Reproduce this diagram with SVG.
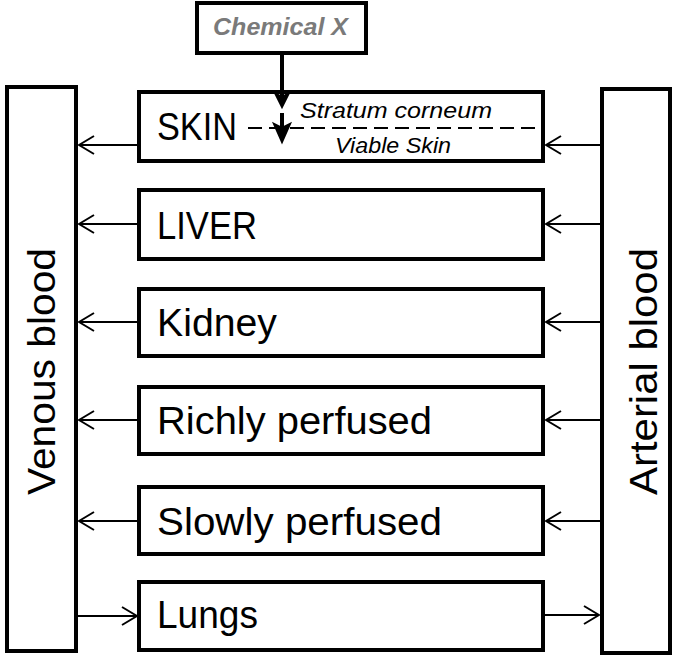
<svg xmlns="http://www.w3.org/2000/svg" width="690" height="670" viewBox="0 0 690 670">
<style>
.box{fill:#fff;stroke:#000;stroke-width:4}
.lbl{font-family:"Liberation Sans",Arial,sans-serif;font-size:38px;fill:#000}
.it{font-family:"Liberation Sans",Arial,sans-serif;font-size:22px;font-style:italic;fill:#000}
.conn{stroke:#000;stroke-width:2;fill:none}
.thick{stroke:#000;stroke-width:4;fill:none}
.head{fill:#000;stroke:#000;stroke-width:2;stroke-linejoin:miter}
</style>
<defs>
<marker id="ah" markerUnits="userSpaceOnUse" viewBox="0 0 17 20" refX="16" refY="10" markerWidth="17" markerHeight="20" orient="auto">
<path d="M1,1 L16,10 L1,19" fill="none" stroke="#000" stroke-width="2"/>
</marker>
</defs>
<rect width="690" height="670" fill="#fff"/>
<g id="venous">
<rect class="box" x="7" y="87" width="69" height="564"/>
<text class="lbl" transform="translate(55,495) rotate(-90)" textLength="247" lengthAdjust="spacingAndGlyphs">Venous blood</text>
</g>
<g id="arterial">
<rect class="box" x="602" y="89" width="68" height="564"/>
<text class="lbl" transform="translate(657,495) rotate(-90)" textLength="247" lengthAdjust="spacingAndGlyphs">Arterial blood</text>
</g>
<g id="chemical">
<rect class="box" x="197" y="3" width="169" height="50"/>
<text x="213" y="35" font-family="Liberation Sans,Arial,sans-serif" font-size="24" font-weight="bold" font-style="italic" fill="#7a7a7a" textLength="135" lengthAdjust="spacingAndGlyphs">Chemical X</text>
</g>
<g id="skin">
<rect class="box" x="139" y="92" width="404" height="69"/>
<text class="lbl" x="157" y="140" textLength="80" lengthAdjust="spacingAndGlyphs">SKIN</text>
<line x1="248" y1="128" x2="543" y2="128" stroke="#000" stroke-width="2" stroke-dasharray="14,7"/>
<text class="it" x="300" y="118" textLength="192" lengthAdjust="spacingAndGlyphs">Stratum corneum</text>
<text class="it" x="335" y="153" textLength="116" lengthAdjust="spacingAndGlyphs">Viable Skin</text>
</g>
<g id="liver">
<rect class="box" x="139" y="190" width="404" height="69"/>
<text class="lbl" x="157" y="239" textLength="100" lengthAdjust="spacingAndGlyphs">LIVER</text>
</g>
<g id="kidney">
<rect class="box" x="139" y="289" width="404" height="67"/>
<text class="lbl" x="157" y="336" textLength="120" lengthAdjust="spacingAndGlyphs">Kidney</text>
</g>
<g id="richly">
<rect class="box" x="139" y="387" width="404" height="67"/>
<text class="lbl" x="157" y="434" textLength="275" lengthAdjust="spacingAndGlyphs">Richly perfused</text>
</g>
<g id="slowly">
<rect class="box" x="139" y="487" width="404" height="67"/>
<text class="lbl" x="157" y="535" textLength="285" lengthAdjust="spacingAndGlyphs">Slowly perfused</text>
</g>
<g id="lungs">
<rect class="box" x="139" y="582" width="404" height="68"/>
<text class="lbl" x="157" y="628" textLength="101" lengthAdjust="spacingAndGlyphs">Lungs</text>
</g>
<g id="connectors">
<line class="thick" x1="282" y1="55" x2="282" y2="100"/>
<polygon class="head" points="275,93 282,97 289,93 282,107"/>
<line class="thick" x1="282" y1="113" x2="282" y2="135"/>
<polygon class="head" points="274,124 282,128 290,124 282,142"/>
<line class="conn" x1="137" y1="145" x2="79" y2="145" marker-end="url(#ah)"/>
<line class="conn" x1="137" y1="224" x2="79" y2="224" marker-end="url(#ah)"/>
<line class="conn" x1="137" y1="322" x2="79" y2="322" marker-end="url(#ah)"/>
<line class="conn" x1="137" y1="420" x2="79" y2="420" marker-end="url(#ah)"/>
<line class="conn" x1="137" y1="521" x2="79" y2="521" marker-end="url(#ah)"/>
<line class="conn" x1="78" y1="616" x2="137" y2="616" marker-end="url(#ah)"/>
<line class="conn" x1="600" y1="145" x2="546" y2="145" marker-end="url(#ah)"/>
<line class="conn" x1="600" y1="224" x2="546" y2="224" marker-end="url(#ah)"/>
<line class="conn" x1="600" y1="322" x2="546" y2="322" marker-end="url(#ah)"/>
<line class="conn" x1="600" y1="420" x2="546" y2="420" marker-end="url(#ah)"/>
<line class="conn" x1="600" y1="521" x2="546" y2="521" marker-end="url(#ah)"/>
<line class="conn" x1="545" y1="615" x2="599" y2="615" marker-end="url(#ah)"/>
</g>
</svg>
